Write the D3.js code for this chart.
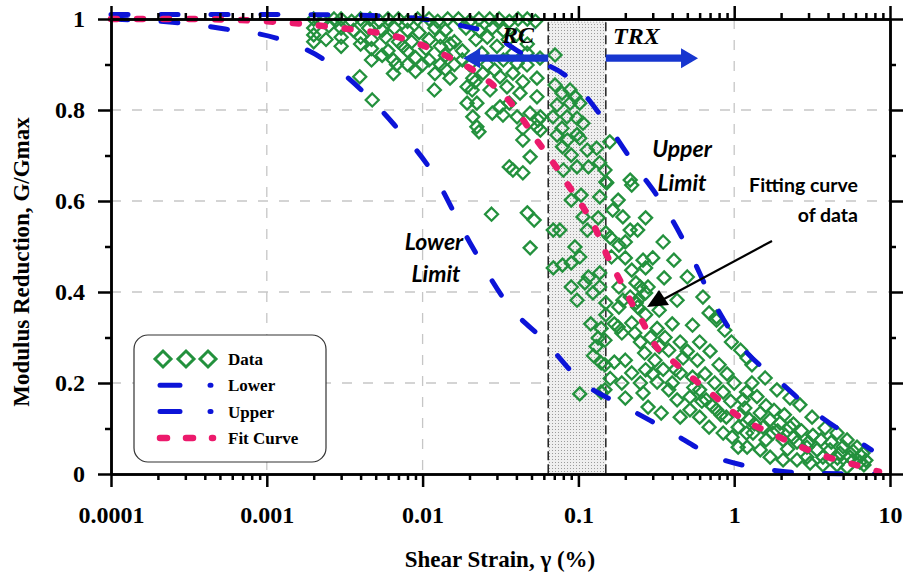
<!DOCTYPE html>
<html lang="en">
<head>
  <meta charset="UTF-8">
  <title>Modulus Reduction</title>
  <script src="https://d3js.org/d3.v7.min.js"></script>
  <style>
    body { margin: 0; background: #fff; }
    .axis path, .axis line { stroke: #000; stroke-width: 2.5; }
    .axis text {
      font-family: "Liberation Serif", "Times New Roman", serif;
      font-weight: bold; font-size: 24px; fill: #000;
    }
    .grid line { stroke: #c6c6c6; stroke-width: 1.3; stroke-dasharray: 10 11; }
    .title { font-family: "Liberation Serif", "Times New Roman", serif; font-weight: bold; font-size: 23px; }
    .note { font-family: Lato, "Open Sans", sans-serif; font-weight: bold; }
    .legend text { font-family: "Liberation Serif", "Times New Roman", serif; font-weight: bold; font-size: 17px; }
  </style>
</head>
<body>
  <svg width="906" height="579"></svg>

  <script>
    // axis ticks
    const xTicks = [0.0001, 0.001, 0.01, 0.1, 1, 10];
    const xTickLabels = ["0.0001", "0.001", "0.01", "0.1", "1", "10"];
    const yTicks = [0, 0.2, 0.4, 0.6, 0.8, 1];
    const yTickLabels = ["0", "0.2", "0.4", "0.6", "0.8", "1"];
    const yMinorTicks = [0.1, 0.3, 0.5, 0.7, 0.9];

    // measured points: [shear strain %, G/Gmax]
    const scatter = [
      [0.002,1],[0.0023,0.995],[0.0027,1],[0.003,1],[0.0035,0.995],[0.004,1],[0.0046,1],[0.0053,0.995],
      [0.006,1],[0.007,1],[0.008,0.995],[0.0093,1],[0.011,1],[0.0125,0.995],[0.0145,1],[0.017,1],
      [0.02,0.995],[0.023,1],[0.027,1],[0.031,1],[0.036,0.995],[0.041,1],[0.047,1],[0.053,0.995],
      [0.002,0.98],[0.0025,0.985],[0.003,0.98],[0.0036,0.975],[0.0045,0.98],[0.0055,0.975],[0.0066,0.98],
      [0.008,0.975],[0.0095,0.97],[0.012,0.98],[0.014,0.975],[0.019,0.98],[0.023,0.975],[0.028,0.98],
      [0.033,0.975],[0.04,0.965],
      [0.002,0.965],[0.0024,0.955],[0.003,0.96],[0.004,0.96],[0.0047,0.955],[0.0058,0.96],[0.007,0.95],
      [0.0085,0.95],[0.011,0.955],[0.013,0.96],[0.016,0.95],[0.022,0.955],[0.026,0.96],[0.0354,0.955],[0.047,0.945],
      [0.002,0.95],[0.003,0.94],[0.004,0.945],[0.0047,0.935],[0.006,0.93],[0.0075,0.94],[0.008,0.93],
      [0.0105,0.935],[0.013,0.94],[0.015,0.945],[0.018,0.93],[0.024,0.925],[0.03,0.94],[0.038,0.925],
      [0.0047,0.91],[0.0055,0.92],[0.0065,0.91],[0.0065,0.88],[0.0068,0.9],[0.008,0.9],[0.009,0.915],
      [0.009,0.885],[0.01,0.9],[0.011,0.91],[0.0119,0.844],[0.012,0.88],[0.013,0.9],[0.014,0.92],
      [0.014,0.89],[0.016,0.9],[0.015,0.87],[0.018,0.91],[0.0193,0.851],[0.0193,0.815],[0.02,0.9],
      [0.021,0.87],[0.0244,0.881],[0.0217,0.862],[0.0314,0.873],[0.038,0.881],[0.044,0.862],[0.0542,0.87],
      [0.0208,0.844],[0.0271,0.844],[0.0348,0.851],[0.0422,0.837],[0.0542,0.829],[0.0404,0.903],
      [0.0468,0.899],[0.0468,0.925],[0.0567,0.914],[0.0708,0.921],[0.00395,0.873],[0.00475,0.822],
      [0.026,0.9],[0.033,0.91],[0.029,0.888],
      [0.021,0.785],[0.023,0.752],[0.028,0.793],[0.0328,0.789],[0.036,0.815],[0.0223,0.815],[0.0314,0.807],
      [0.0489,0.793],[0.0551,0.778],[0.0223,0.763],[0.044,0.76],[0.0542,0.763],[0.057,0.785],[0.057,0.756],
      [0.0404,0.785],[0.0708,0.855],[0.0785,0.837],[0.0884,0.844],[0.0951,0.829],[0.0729,0.811],
      [0.0884,0.815],[0.102,0.815],[0.0687,0.785],[0.0845,0.785],[0.098,0.782],[0.0785,0.76],[0.107,0.771],
      [0.098,0.746],
      [0.044,0.734],[0.038,0.668],[0.044,0.662],[0.049,0.697],[0.047,0.574],[0.052,0.558],[0.049,0.497],
      [0.069,0.536],[0.076,0.536],[0.073,0.745],[0.085,0.734],[0.079,0.719],[0.102,0.738],[0.09,0.701],
      [0.114,0.712],[0.08,0.668],[0.098,0.675],[0.116,0.675],[0.131,0.716],[0.159,0.73],[0.137,0.684],
      [0.152,0.64],[0.09,0.602],[0.104,0.613],[0.137,0.609],[0.107,0.565],[0.134,0.563],[0.114,0.536],
      [0.15,0.53],[0.18,0.602],[0.193,0.565],[0.215,0.646],[0.215,0.536],[0.24,0.536],[0.27,0.563],
      [0.036,0.675],[0.0277,0.571],[0.148,0.668],[0.15,0.642],[0.166,0.58],[0.22,0.635],[0.35,0.51],
      [0.182,0.503],
      [0.095,0.499],[0.102,0.477],[0.069,0.453],[0.079,0.459],[0.09,0.464],[0.116,0.433],[0.137,0.442],
      [0.163,0.477],[0.2,0.475],[0.22,0.448],[0.09,0.411],[0.11,0.42],[0.137,0.411],[0.098,0.382],
      [0.124,0.398],[0.182,0.411],[0.234,0.42],[0.24,0.382],[0.27,0.453],[0.26,0.47],[0.3,0.475],
      [0.41,0.47],[0.355,0.431],[0.5,0.433],[0.43,0.382],[0.63,0.389],[0.33,0.36],[0.77,0.345],
      [0.25,0.411],[0.28,0.411],[0.215,0.389],[0.27,0.398],[0.235,0.376],[0.193,0.382],[0.15,0.376],
      [0.182,0.367],[0.24,0.367],[0.22,0.332],[0.18,0.323],[0.2,0.51],[0.16,0.52],
      [0.148,0.294],[0.17,0.246],[0.148,0.24],[0.2,0.25],[0.148,0.185],[0.19,0.2],[0.2,0.167],
      [0.26,0.178],[0.22,0.222],[0.27,0.229],[0.31,0.25],[0.266,0.266],[0.33,0.28],[0.36,0.3],
      [0.38,0.272],[0.47,0.255],[0.45,0.222],[0.54,0.213],[0.32,0.202],[0.38,0.185],[0.28,0.147],
      [0.34,0.134],[0.43,0.163],[0.52,0.169],[0.6,0.185],[0.66,0.163],[0.77,0.141],[0.89,0.125],
      [0.52,0.141],[0.6,0.125],[0.45,0.125],[0.69,0.103],[0.85,0.09],[0.97,0.081],[1.06,0.059],
      [1.06,0.103],[1.2,0.09],
      [0.54,0.327],[0.6,0.29],[0.69,0.354],[0.77,0.338],[0.87,0.316],[0.96,0.29],[1.1,0.272],
      [0.15,0.35],[0.17,0.33],[0.19,0.31],[0.23,0.31],[0.25,0.29],[0.29,0.3],[0.32,0.32],[0.4,0.33],
      [0.27,0.35],[0.45,0.29],[0.5,0.27],[0.42,0.23],[0.35,0.23],[0.58,0.25],[0.65,0.22],[0.75,0.2],
      [0.85,0.18],[0.95,0.16],[0.7,0.27],[0.8,0.24],[0.9,0.22],[1.0,0.2],[0.55,0.19],[0.62,0.16],
      [0.72,0.15],[0.82,0.13],[0.4,0.2],[0.3,0.22],[0.25,0.2],[0.13,0.28],[0.12,0.33],[0.14,0.32],
      [0.102,0.176],[0.14,0.18],[0.134,0.299],[0.14,0.244],[0.125,0.26],[0.16,0.21],
      [1.14,0.163],[1.17,0.145],[1.47,0.134],[1.7,0.119],[1.97,0.112],[2.28,0.103],[1.53,0.103],
      [1.32,0.09],[1.77,0.09],[2.06,0.075],[2.53,0.07],[2.93,0.059],[3.4,0.053],[4.12,0.053],
      [4.78,0.046],[5.54,0.037],[6.41,0.026],[1.21,0.059],[1.47,0.053],[1.7,0.037],[2.06,0.031],
      [2.53,0.031],[3.07,0.024],[3.71,0.02],[4.57,0.02],[5.3,0.015],[3.71,0.037],[2.93,0.037],
      [1.3,0.2],[1.2,0.18],[1.4,0.17],[1.6,0.15],[1.8,0.14],[2.1,0.13],[1.25,0.12],[2.4,0.11],
      [2.7,0.095],[3.2,0.085],[3.6,0.075],[4.2,0.07],[5,0.06],[5.8,0.05],[6.5,0.04],[7,0.03],
      [6.8,0.02],[5.8,0.03],[4.6,0.035],[2.2,0.055],[1.6,0.075],[1.1,0.13],[1.35,0.11],[1.9,0.095],
      [2.4,0.08],[3.0,0.07],
      [1.3,0.24],[1.58,0.211],[1.88,0.185],[2.28,0.167],[2.64,0.152],[3.16,0.125],[3.83,0.101],
      [4.57,0.09],[5.3,0.075],[6.14,0.059],[6.71,0.046],[1.21,0.255]
    ];

    const lowerLimit = [
      [0.0001,1.0],[0.0003,0.99],[0.00054,0.978],[0.00115,0.958],[0.0023,0.912],[0.0041,0.842],
      [0.0066,0.767],[0.0113,0.668],[0.02,0.51],[0.036,0.369],[0.061,0.292],[0.104,0.204],
      [0.197,0.149],[0.38,0.095],[0.76,0.037],[1.57,0.011],[3,0.002],[8,0]
    ];
    const upperLimit = [
      [0.0001,1.01],[0.001,1.01],[0.004,1.008],[0.01,1.0],[0.018,0.985],[0.026,0.971],[0.043,0.925],
      [0.093,0.861],[0.149,0.774],[0.23,0.679],[0.36,0.585],[0.52,0.486],[0.72,0.385],[1.1,0.283],
      [1.9,0.207],[3.4,0.132],[6.5,0.068],[7.6,0.053]
    ];
    const fitCurve = [
      [0.0001,1.0],[0.0003,1.0],[0.001,0.995],[0.003,0.98],[0.007,0.96],[0.014,0.92],[0.025,0.87],
      [0.036,0.82],[0.055,0.73],[0.069,0.684],[0.086,0.635],[0.107,0.587],[0.13,0.536],[0.15,0.486],
      [0.18,0.433],[0.215,0.382],[0.26,0.332],[0.31,0.284],[0.41,0.246],[0.54,0.211],[0.73,0.174],
      [1.0,0.134],[1.95,0.081],[4,0.037],[6,0.02],[8.5,0.005]
    ];

    // RC / TRX testing range and arrows
    const shadeRange = [0.064, 0.15];
    const shadeTop = 0.993;
    const rcArrowTip = 0.0182;
    const trxArrowTip = 0.586;
    const arrowLevel = 0.914;

    const legendItems = ["Data", "Lower", "Upper", "Fit Curve"];

    const green = "#23913d", blue = "#0c14d8", pink = "#ec1a6c", arrowBlue = "#1736cf";

    const svg = d3.select("svg");
    svg.append("rect").attr("width", 906).attr("height", 579).attr("fill", "#fff");

    const x = d3.scaleLog().domain([1e-4, 10]).range([111, 890]);
    const y = d3.scaleLinear().domain([0, 1]).range([474, 19]);

    const defs = svg.append("defs");
    const pat = defs.append("pattern").attr("id", "stipple")
      .attr("width", 3).attr("height", 3).attr("patternUnits", "userSpaceOnUse");
    pat.append("rect").attr("width", 3).attr("height", 3).attr("fill", "#efefef");
    pat.append("rect").attr("width", 1).attr("height", 1).attr("fill", "#9c9c9c");

    // grid
    const grid = svg.append("g").attr("class", "grid");
    grid.selectAll(".gx").data(xTicks.slice(1, -1)).enter().append("line")
      .attr("x1", d => x(d)).attr("x2", d => x(d)).attr("y1", y(1)).attr("y2", y(0));
    grid.selectAll(".gy").data(yTicks.slice(1, -1)).enter().append("line")
      .attr("x1", x(1e-4)).attr("x2", x(10)).attr("y1", d => y(d)).attr("y2", d => y(d));

    // shaded band
    svg.append("rect")
      .attr("x", x(shadeRange[0])).attr("y", y(shadeTop))
      .attr("width", x(shadeRange[1]) - x(shadeRange[0]))
      .attr("height", y(0) - y(shadeTop))
      .attr("fill", "url(#stipple)");
    svg.append("line")
      .attr("x1", x(shadeRange[0])).attr("x2", x(shadeRange[1]))
      .attr("y1", y(shadeTop)).attr("y2", y(shadeTop))
      .attr("stroke", "#999").attr("stroke-width", 1).attr("stroke-dasharray", "1 2");
    svg.selectAll(".edge").data(shadeRange).enter().append("line")
      .attr("x1", d => x(d)).attr("x2", d => x(d))
      .attr("y1", y(shadeTop)).attr("y2", y(0))
      .attr("stroke", "#111").attr("stroke-width", 1.4).attr("stroke-dasharray", "9 4");

    // data points
    const diamond = s => `M0,${-s}L${s},0L0,${s}L${-s},0Z`;
    svg.append("g").selectAll("path").data(scatter).enter().append("path")
      .attr("d", diamond(6.5))
      .attr("transform", d => `translate(${x(d[0])},${y(d[1])})`)
      .attr("fill", "none").attr("stroke", green).attr("stroke-width", 2.3);

    // curves
    const line = d3.line().x(d => x(d[0])).y(d => y(d[1])).curve(d3.curveMonotoneX);
    [lowerLimit, upperLimit].forEach(c => {
      svg.append("path").attr("d", line(c)).attr("fill", "none")
        .attr("stroke", blue).attr("stroke-width", 5)
        .attr("stroke-linecap", "round").attr("stroke-dasharray", "17 33");
    });
    svg.append("path").attr("d", line(fitCurve)).attr("fill", "none")
      .attr("stroke", pink).attr("stroke-width", 6.5)
      .attr("stroke-linecap", "round").attr("stroke-dasharray", "6 20");

    // axes
    const minors = [];
    for (let e = -4; e < 1; e++) for (let m = 2; m <= 9; m++) minors.push(m * Math.pow(10, e));

    const addAxis = (axis, tf) => svg.append("g").attr("class", "axis")
      .attr("transform", tf).call(axis);

    addAxis(d3.axisBottom(x).tickValues(minors).tickFormat("").tickSize(6).tickSizeOuter(0), `translate(0,${y(0)})`);
    addAxis(d3.axisBottom(x).tickValues(xTicks).tickFormat((d, i) => xTickLabels[i])
      .tickSize(13).tickPadding(19).tickSizeOuter(0), `translate(0,${y(0)})`);
    addAxis(d3.axisTop(x).tickValues(minors).tickFormat("").tickSize(6).tickSizeOuter(0), `translate(0,${y(1)})`);
    addAxis(d3.axisTop(x).tickValues(xTicks).tickFormat("").tickSize(13).tickSizeOuter(0), `translate(0,${y(1)})`);
    addAxis(d3.axisLeft(y).tickValues(yMinorTicks).tickFormat("").tickSize(6).tickSizeOuter(0), `translate(${x(1e-4)},0)`);
    addAxis(d3.axisLeft(y).tickValues(yTicks).tickFormat((d, i) => yTickLabels[i])
      .tickSize(13).tickPadding(13).tickSizeOuter(0), `translate(${x(1e-4)},0)`);
    addAxis(d3.axisRight(y).tickValues(yMinorTicks).tickFormat("").tickSize(6).tickSizeOuter(0), `translate(${x(10)},0)`);
    addAxis(d3.axisRight(y).tickValues(yTicks).tickFormat("").tickSize(13).tickSizeOuter(0), `translate(${x(10)},0)`);

    // axis titles
    svg.append("text").attr("class", "title")
      .attr("x", 500).attr("y", 567).attr("text-anchor", "middle")
      .text("Shear Strain, γ (%)");
    svg.append("text").attr("class", "title")
      .attr("transform", "translate(29,262) rotate(-90)").attr("text-anchor", "middle")
      .text("Modulus Reduction, G/Gmax");

    // RC / TRX arrows
    const blockArrow = (x0, x1, yy) => {
      const dir = Math.sign(x1 - x0), hl = 17, hh = 10, sh = 3.6;
      const xb = x1 - dir * hl;
      return `M${x0},${yy - sh}L${xb},${yy - sh}L${xb},${yy - hh}L${x1},${yy}L${xb},${yy + hh}L${xb},${yy + sh}L${x0},${yy + sh}Z`;
    };
    svg.append("path").attr("d", blockArrow(x(shadeRange[0]), x(rcArrowTip), y(arrowLevel))).attr("fill", arrowBlue);
    svg.append("path").attr("d", blockArrow(x(shadeRange[1]), x(trxArrowTip), y(arrowLevel))).attr("fill", arrowBlue);

    const serifItalic = sel => sel.attr("font-family", "'Liberation Serif','Times New Roman',serif")
      .attr("font-weight", "bold").attr("font-style", "italic").attr("font-size", 24);
    svg.append("text").attr("x", 502).attr("y", 43).text("RC").call(serifItalic);
    svg.append("text").attr("x", 613).attr("y", 44).text("TRX").call(serifItalic);

    // notes
    const note = (tx, ty, txt, anchor, italic, size) => svg.append("text").attr("class", "note")
      .attr("x", tx).attr("y", ty).attr("text-anchor", anchor).attr("font-size", size)
      .attr("font-style", italic ? "italic" : "normal").text(txt);
    note(682, 157, "Upper", "middle", true, 23);
    note(682, 191, "Limit", "middle", true, 23);
    note(434, 250, "Lower", "middle", true, 23);
    note(436, 282, "Limit", "middle", true, 23);
    note(858, 192, "Fitting curve", "end", false, 19.5);
    note(858, 222, "of data", "end", false, 19.5);

    // pointer to fitted curve
    svg.append("line").attr("x1", 772).attr("y1", 241).attr("x2", 664).attr("y2", 299)
      .attr("stroke", "#000").attr("stroke-width", 2.2);
    svg.append("path").attr("d", "M647,307L659,290L669,305Z").attr("fill", "#000");

    // legend
    const lg = svg.append("g").attr("class", "legend");
    lg.append("rect").attr("x", 134).attr("y", 335).attr("width", 192).attr("height", 127)
      .attr("rx", 14).attr("fill", "#fff").attr("stroke", "#333").attr("stroke-width", 1.2);
    const rowY = i => 359 + i * 26.3;
    [163, 186, 208].forEach(cx => {
      lg.append("path").attr("d", diamond(8)).attr("transform", `translate(${cx},${rowY(0)})`)
        .attr("fill", "none").attr("stroke", green).attr("stroke-width", 3);
    });
    [1, 2].forEach(i => {
      lg.append("path").attr("d", `M160,${rowY(i)}H211`).attr("stroke", blue).attr("stroke-width", 5)
        .attr("stroke-linecap", "round").attr("stroke-dasharray", "20 30");
    });
    lg.append("path").attr("d", `M160,${rowY(3)}H213`).attr("stroke", pink).attr("stroke-width", 6.5)
      .attr("stroke-linecap", "round").attr("stroke-dasharray", "7 19");
    lg.selectAll("text.lab").data(legendItems).enter().append("text")
      .attr("x", 228).attr("y", (d, i) => rowY(i) + 6).text(d => d);
  </script>
</body>
</html>
